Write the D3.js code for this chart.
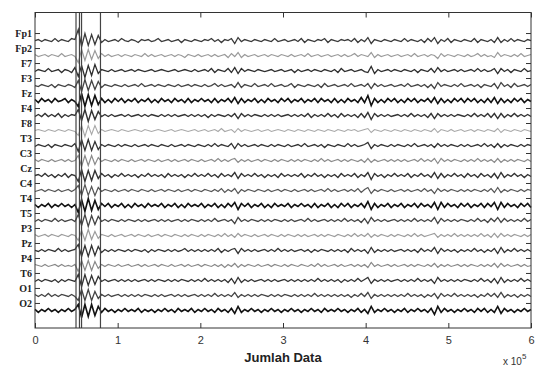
<!DOCTYPE html>
<html>
<head>
<meta charset="utf-8">
<script src="https://cdn.jsdelivr.net/npm/d3@7"></script>
<style>
  body { margin: 0; background: #fff; }
  svg { display: block; }
</style>
</head>
<body>
<svg id="chart" width="537" height="367"></svg>
<script>
// channel names, top to bottom
const channels = ["Fp1", "Fp2", "F7", "F3", "Fz", "F4", "F8", "T3", "C3", "Cz",
  "C4", "T4", "T5", "P3", "Pz", "P4", "T6", "O1", "O2"];

// x axis (units of 10^5 samples)
const xTicks = [0, 1, 2, 3, 4, 5, 6];
const xExponent = 5;
const xMax = 600000;

// vertical marker lines (sample index)
const markers = [49600, 53800, 56300, 79200];

// amplitude readings, evenly spaced over the record, one row per channel
const signals = [
  // Fp1
  [0,1,-1,1,0,-1,2,-1,1,0, -1,2,1,11,-6,7,-5,6,-4,5, -2,1,-1,0,1,-1,2,0,-1,1, 0,-2,1,0,1,-1,0,2,-1,0, 1,-1,0,1,-2,1,0,-1,1,0,
   -1,1,0,2,-1,1,-2,1,0,2, -3,3,-1,1,0,-1,1,0,-1,1, 0,-1,2,-1,0,1,-1,0,1,-1, 2,-2,1,0,-1,1,0,2,-2,1, 0,-1,1,0,1,-1,2,-2,1,-1,
   3,-3,1,0,-1,1,0,-1,1,0, -1,2,-1,1,0,-1,1,-2,2,-1, 3,-3,1,-1,2,-2,1,0,-1,1, 0,-1,2,-2,1,0,-1,1,-2,3, -2,1,-1,2,-1,1,0,-1,1,0],
  // Fp2
  [1,-1,0,1,-1,1,0,-1,2,-1, 0,1,-1,-7,6,-5,6,-4,5,-3, 2,-1,1,-1,0,1,-1,1,0,-1, 1,0,-1,2,-1,1,-1,0,1,-1, 0,1,-1,1,0,-2,1,0,-1,1,
   -1,0,1,-1,1,-1,0,1,-2,2, -1,3,-2,1,-1,0,1,-1,0,1, -1,1,0,-1,1,0,-1,1,-1,0, 1,-1,2,-1,0,1,-1,0,1,-1, 0,1,-1,1,-1,0,2,-1,1,0,
   -1,3,-2,1,-1,0,1,-1,0,1, -1,0,1,-1,2,-1,0,1,-1,1, 0,-3,2,-1,1,0,-1,1,0,-1, 1,-1,0,2,-1,1,-1,0,-2,3, -1,1,0,-1,1,-1,2,-1,0,1],
  // F7
  [-1,1,0,-1,2,-1,0,1,-2,1, 0,-2,3,-6,5,-7,5,-5,6,-3, 1,0,-1,1,-1,0,1,-1,0,1, -1,1,0,-1,0,1,-1,0,1,0, -1,0,1,-1,0,1,0,-1,1,-1,
   0,1,-1,2,-2,1,0,-1,2,-2, 3,-3,2,-1,1,0,-1,1,0,-1, 0,1,-1,0,1,-1,0,1,-2,1, -1,0,1,-1,1,0,-1,1,0,-1, 1,-2,2,-1,0,1,-1,0,1,-1,
   -2,4,-3,1,-1,0,1,-1,1,0, -1,1,0,-1,1,-2,1,0,-1,2, -2,3,-1,1,-1,0,1,-1,1,-1, 0,1,-1,2,-1,1,-1,0,2,-3, 2,-1,1,-2,1,0,-1,2,-1,0],
  // F3
  [0,-1,1,0,-1,1,-2,1,0,-1, 1,0,-2,5,-6,6,-5,5,-4,4, -2,1,0,-1,1,0,-1,1,-1,0, 1,-1,2,-1,0,1,-1,1,0,-1, 1,0,-1,1,-1,0,1,-1,1,0,
   -1,1,-1,0,2,-1,1,-1,0,1, -2,3,-2,1,0,-1,2,-1,0,1, -1,2,-1,0,1,-1,0,2,-2,1, 0,-1,1,0,-1,1,-2,2,-1,0, 1,-1,0,1,-1,2,-1,0,1,-1,
   2,-3,2,-1,1,-1,0,1,-1,0, 1,-1,2,-1,0,1,-1,1,-2,1, -3,3,-1,1,0,-1,1,-1,2,-1, 0,1,-1,1,-2,1,0,-1,2,-3, 3,-1,1,-2,2,-1,0,1,-1,1],
  // Fz
  [1,-2,2,-1,1,-2,2,-1,0,2, -2,1,-1,-6,7,-6,6,-5,5,-4, 2,-2,1,-2,2,-1,2,-2,1,-1, 2,-2,1,-1,2,-2,1,-2,2,-1, 1,-2,2,-1,1,-2,2,-2,1,-1,
   2,-1,1,-2,2,-2,1,-1,2,-2, 3,-3,2,-2,1,-1,2,-2,1,-2, 2,-1,1,-2,2,-1,2,-2,1,-1, 2,-2,1,-1,2,-2,2,-1,1,-2, 2,-2,1,-2,2,-1,1,-2,3,-2,
   5,-5,2,-2,1,-2,2,-1,2,-2, 1,-2,2,-1,2,-2,1,-1,2,-2, 3,-3,2,-2,1,-2,2,-1,2,-2, 2,-1,2,-2,1,-2,2,-2,3,-3, 2,-2,1,-2,2,-1,2,-2,1,-1],
  // F4
  [-1,1,-1,2,-1,1,-1,2,-2,1, -1,1,0,6,-5,6,-6,5,-4,4, -1,1,-1,1,-1,0,1,-1,1,-1, 0,1,-1,1,-1,1,0,-1,1,-1, 1,-1,1,-1,0,1,-1,1,-1,1,
   -1,1,-2,1,-1,1,0,-1,1,-1, 2,-3,2,-1,1,-1,1,0,-1,1, -1,1,-1,1,-1,0,1,-1,1,-1, 1,-1,2,-2,1,-1,1,-1,2,-1, 1,-2,2,-1,1,-1,1,-2,2,-2,
   3,-4,2,-1,1,-1,1,-1,0,1, -1,1,-1,2,-1,1,-1,1,-2,2, -3,2,-1,1,-1,1,-1,1,0,-1, 1,-1,2,-1,1,-1,2,-2,2,-3, 2,-2,1,-1,2,-1,1,-1,1,-1],
  // F8
  [0,1,0,-1,1,0,-1,1,0,-1, 1,0,-1,-5,5,-6,5,-4,5,-3, 1,-1,0,1,0,-1,1,0,-1,0, 1,0,-1,1,0,-1,0,1,0,-1, 0,1,-1,0,1,0,-1,0,1,-1,
   0,1,-1,0,1,-1,2,-1,0,1, -2,2,-1,1,0,-1,0,1,-1,0, 1,-1,0,1,0,-1,1,0,-1,1, 0,-1,1,0,-1,1,0,-1,1,0, -1,1,0,-1,1,0,1,-1,0,1,
   2,-2,1,0,-1,1,0,-1,1,0, -1,1,0,-1,1,0,-1,1,0,-1, 2,-2,1,0,-1,1,-1,0,1,-1, 0,1,-1,1,0,-1,1,0,-1,2, -2,1,0,-1,1,0,-1,1,0,-1],
  // T3
  [-1,1,0,-1,1,-2,1,0,-1,1, 0,-1,2,-6,6,-5,6,-5,4,-4, 1,-1,1,0,-1,1,-1,1,0,-1, 1,-1,0,1,-1,1,0,-1,1,0, -1,1,-1,0,1,-1,1,0,-1,1,
   0,-1,1,-1,2,-1,1,0,-1,2, -3,2,-1,1,-1,0,1,-1,1,0, -1,1,-1,1,0,-1,1,-1,0,1, -1,2,-1,0,1,-1,1,-2,1,0, -1,1,0,-1,2,-1,1,-1,0,1,
   3,-3,1,-1,1,0,-1,1,-1,1, 0,-1,1,-1,2,-1,0,1,-1,1, -2,2,-1,1,-1,1,0,-1,1,-1, 1,-1,0,1,-1,2,-1,1,-2,2, -2,1,-1,1,0,-1,1,-1,1,0],
  // C3
  [1,-1,1,0,-1,1,-1,0,1,-1, 1,-1,0,5,-6,5,-5,5,-4,3, -1,1,0,-1,1,-1,1,0,-1,1, -1,0,1,-1,1,0,-1,1,-1,0, 1,-1,1,-1,0,1,-1,1,0,-1,
   1,-1,0,1,-1,2,-1,1,-1,1, 2,-2,1,-1,1,-1,0,1,-1,1, 0,-1,1,-1,1,0,-1,1,-1,1, -1,1,0,-1,1,-1,2,-1,1,-1, 0,1,-1,1,-1,1,0,-1,1,-2,
   2,-2,1,-1,0,1,-1,1,-1,1, -1,1,-1,0,1,-1,2,-1,1,-1, 2,-3,2,-1,1,-1,1,0,-1,1, -1,1,-1,2,-1,1,-1,1,-2,2, -2,1,-1,1,-1,1,0,-1,1,-1],
  // Cz
  [0,1,-1,2,-1,1,-2,1,-1,2, -2,1,0,-6,6,-6,5,-5,5,-3, 2,-1,1,-2,1,-1,2,-1,1,-1, 1,-2,1,-1,2,-1,1,-1,1,-2, 2,-1,1,-1,1,-2,1,-1,2,-1,
   1,-1,2,-1,1,-2,2,-1,1,-1, 3,-3,2,-1,1,-1,2,-1,1,-2, 1,-1,1,-2,2,-1,1,-1,1,-1, 2,-2,1,-1,2,-1,1,-2,1,-1, 1,-2,2,-1,1,-1,2,-2,1,-1,
   3,-4,2,-1,1,-2,1,-1,2,-1, 1,-1,2,-2,1,-1,2,-1,1,-2, 3,-3,2,-2,1,-1,2,-1,1,-2, 2,-1,1,-2,2,-1,1,-2,2,-3, 3,-2,1,-1,2,-1,1,-2,1,-1],
  // C4
  [-1,0,1,-1,1,0,-1,1,-1,0, 1,-1,1,5,-5,6,-5,4,-5,3, -1,1,0,-1,1,-1,0,1,-1,1, 0,-1,1,0,-1,1,-1,0,1,-1, 1,0,-1,1,-1,0,1,-1,1,0,
   -1,1,0,-1,1,-1,2,-2,1,-1, 2,-3,1,-1,1,0,-1,1,0,-1, 1,-1,0,1,-1,1,0,-1,1,-1, 0,1,-1,1,-1,0,1,-1,2,-1, 1,-1,0,1,-1,1,-1,2,-2,1,
   3,-3,1,-1,1,0,-1,1,-1,0, 1,-1,1,-1,0,1,-1,2,-1,1, -3,2,-1,1,-1,1,0,-1,1,-1, 1,-1,1,0,-1,1,-1,2,-2,3, -2,1,-1,1,0,-1,1,-1,1,0],
  // T4
  [1,-2,1,-1,2,-2,1,-1,2,-1, 1,-2,1,-7,6,-6,7,-5,5,-4, 2,-1,2,-2,1,-1,2,-2,1,-2, 2,-1,1,-2,2,-1,1,-1,2,-2, 1,-1,2,-2,1,-2,2,-1,1,-1,
   2,-2,1,-1,2,-2,1,-2,2,-1, 3,-4,2,-1,2,-2,1,-1,2,-2, 1,-2,2,-1,1,-1,2,-2,1,-1, 2,-1,1,-2,2,-2,1,-1,2,-2, 1,-2,2,-1,2,-2,1,-1,2,-2,
   4,-4,2,-2,1,-1,2,-2,1,-1, 2,-2,1,-1,2,-2,2,-1,1,-2, 3,-4,3,-2,2,-1,1,-2,2,-1, 2,-2,1,-1,2,-2,2,-1,3,-4, 3,-2,2,-1,1,-2,2,-1,2,-2],
  // T5
  [-1,1,-1,1,0,-1,2,-1,1,-1, 0,1,-1,6,-5,6,-6,5,-4,4, -1,1,-1,1,0,-1,1,-1,1,0, -1,1,-1,1,-1,0,1,-1,1,-1, 1,-1,0,1,-1,1,-1,1,0,-1,
   1,-1,1,-1,2,-1,0,1,-1,1, -3,3,-1,1,-1,1,0,-1,1,-1, 1,-1,1,0,-1,1,-1,1,-1,0, 1,-1,2,-1,1,-1,0,1,-1,1, -1,1,-1,2,-1,1,-1,1,-2,2,
   -3,3,-1,1,-1,1,-1,0,1,-1, 1,-1,1,-1,2,-1,1,-1,1,-1, 3,-3,2,-1,1,-1,1,-1,1,0, -1,1,-1,2,-1,1,-2,2,-1,3, -2,2,-1,1,-1,1,-1,2,-1,1],
  // P3
  [1,-1,0,1,-1,1,0,-1,1,0, -1,1,0,-5,5,-5,6,-4,4,-3, 1,0,-1,1,-1,0,1,-1,0,1, -1,1,0,-1,1,-1,0,1,-1,1, 0,-1,1,0,-1,1,-1,1,0,-1,
   1,-1,1,0,-1,1,-1,2,-1,1, -2,2,-1,1,0,-1,1,-1,0,1, -1,1,0,-1,1,-1,1,0,-1,1, -1,1,-1,0,1,-1,1,-1,1,0, -1,1,0,-1,1,-1,2,-1,1,-1,
   2,-2,1,-1,1,0,-1,1,-1,1, 0,-1,1,-1,2,-1,1,-1,0,1, 2,-2,1,-1,1,-1,2,-1,1,-1, 1,-1,1,-1,2,-1,1,-2,2,-2, 2,-1,1,-1,1,0,-1,1,-1,1],
  // Pz
  [0,-1,1,-1,1,0,-1,2,-1,1, -1,0,1,6,-6,5,-6,5,-5,4, -2,1,-1,1,-1,1,0,-1,1,-1, 1,0,-1,1,-2,1,-1,1,0,-1, 1,-1,1,-1,0,2,-1,1,-1,1,
   -1,1,-1,1,-1,2,-2,1,-1,1, 2,-3,2,-1,1,-1,1,-1,0,1, -1,1,-1,2,-1,1,-1,1,-1,0, 1,-1,1,-2,1,-1,1,0,-1,1, -1,1,-1,1,-2,2,-1,1,-1,1,
   -3,3,-2,1,-1,1,-1,1,-1,0, 1,-1,1,-1,1,-2,2,-1,1,-1, 3,-3,2,-1,1,-1,1,-2,1,-1, 1,-1,2,-1,1,-2,1,-1,2,-3, 3,-2,1,-1,2,-1,1,-1,1,-1],
  // P4
  [1,0,-1,1,-1,0,1,-1,1,-1, 0,-1,1,-6,5,-5,5,-5,4,-3, 1,-1,1,0,-1,1,-1,0,1,-1, 0,1,-1,1,-1,0,1,-1,1,0, -1,1,-1,0,1,-1,1,-1,0,1,
   -1,1,0,-1,1,-1,1,-2,1,-1, 2,-2,1,-1,1,0,-1,1,-1,0, 1,-1,1,0,-1,1,-1,1,0,-1, 1,0,-1,1,-1,2,-1,1,-1,0, 1,-1,1,-1,0,1,-1,1,-1,1,
   -2,3,-1,1,-1,0,1,-1,1,-1, 0,1,-1,1,-1,1,0,-1,1,-1, 2,-2,1,-1,1,-1,0,1,-1,1, -1,1,0,-1,1,-1,1,-1,2,-2, 2,-1,1,-1,0,1,-1,1,-1,0],
  // T6
  [-1,1,-1,1,0,-1,1,-2,1,-1, 1,0,-1,6,-6,6,-5,5,-4,4, -1,1,-1,0,1,-1,1,-1,1,-1, 1,-1,0,1,-1,1,-1,1,0,-1, 1,-1,1,-1,1,0,-1,1,-1,1,
   -1,2,-1,1,-1,1,-1,1,-2,2, -3,3,-2,1,-1,1,-1,0,1,-1, 1,-1,1,-1,0,1,-1,1,-1,1, -1,1,-1,1,-1,2,-1,1,-1,1, -1,1,-2,1,-1,1,-1,2,-1,1,
   3,-3,1,-1,1,-1,1,-1,0,1, -1,1,-1,1,-1,2,-1,1,-1,1, -3,3,-1,1,-1,1,-1,1,-1,1, 0,-1,1,-1,2,-1,1,-2,2,-3, 3,-2,1,-1,1,-1,2,-1,1,-1],
  // O1
  [1,-1,1,-1,2,-1,1,-1,1,0, -1,1,-1,-5,6,-5,6,-5,4,-3, 1,-1,1,-1,0,1,-1,1,-1,1, -1,1,-1,1,0,-1,1,-1,1,-1, 0,1,-1,1,-1,1,-1,0,1,-1,
   1,-1,1,-1,2,-1,1,-1,1,-1, 3,-2,1,-1,1,-1,1,-1,1,0, -1,1,-1,1,-1,1,0,-1,1,-1, 1,-1,1,-1,2,-1,1,-1,1,-1, 1,-1,1,-1,1,-2,1,-1,2,-1,
   3,-3,1,-1,1,-1,1,-1,1,-1, 1,-1,2,-1,1,-1,1,-2,1,-1, 2,-3,2,-1,1,-1,2,-1,1,-1, 1,-1,1,-2,1,-1,2,-1,2,-2, 3,-2,1,-1,1,-2,1,-1,1,-1],
  // O2
  [1,-2,1,-1,2,-1,1,-2,1,-1, 2,-1,1,6,-7,6,-6,6,-5,4, -2,2,-1,1,-2,1,-1,2,-1,1, -1,2,-2,1,-1,1,-2,1,-1,2, -1,1,-2,2,-1,1,-1,2,-2,1,
   -1,2,-1,1,-2,2,-1,1,-2,2, -3,4,-2,1,-1,2,-1,1,-2,1, -1,2,-1,1,-2,1,-1,2,-1,1, -2,1,-1,2,-1,1,-2,2,-1,1, -1,2,-1,1,-2,1,-1,2,-2,1,
   -3,4,-2,1,-1,2,-1,1,-2,1, -1,2,-2,1,-1,2,-1,1,-2,2, -4,4,-2,2,-1,1,-2,1,-1,2, -1,1,-2,2,-1,2,-2,1,-2,4, -3,2,-1,1,-2,1,-1,2,-1,1]
];

// line colours and widths per channel (style)
const traceColors = ["#3a3a3a", "#9a9a9a", "#2e2e2e", "#444", "#111", "#333", "#a8a8a8", "#333", "#8a8a8a", "#333",
  "#555", "#111", "#444", "#9c9c9c", "#333", "#888", "#333", "#444", "#111"];
const traceWidths = [1.3, 1.2, 1.3, 1.3, 1.6, 1.4, 1.1, 1.3, 1.2, 1.4,
  1.2, 1.6, 1.3, 1.2, 1.3, 1.2, 1.3, 1.3, 1.6];

const svg = d3.select("#chart");
const plotLeft = 35, plotRight = 531, plotTop = 12.5, plotBottom = 328;

const x = d3.scaleLinear().domain([0, xMax]).range([plotLeft, plotRight]);
const y = d3.scaleLinear().domain([-1.37, 19.67]).range([plotTop, plotBottom]);
const unitsPerChannel = 15; // amplitude units per channel spacing

svg.append("rect").attr("width", 537).attr("height", 367).attr("fill", "#fff");

// traces
const traces = svg.append("g");
signals.forEach((sig, i) => {
  const step = xMax / (sig.length - 1);
  const line = d3.line()
    .x((d, j) => x(j * step))
    .y(d => y(i + 0.5 - d / unitsPerChannel));
  traces.append("path")
    .datum(sig)
    .attr("d", line)
    .attr("fill", "none")
    .attr("stroke", traceColors[i])
    .attr("stroke-width", traceWidths[i])
    .attr("stroke-linejoin", "miter");
});

// marker lines
svg.append("g").selectAll("line")
  .data(markers)
  .enter()
  .append("line")
  .attr("x1", d => x(d)).attr("x2", d => x(d))
  .attr("y1", plotTop).attr("y2", plotBottom)
  .attr("stroke", "#444")
  .attr("stroke-width", 1.2);

// frame
svg.append("rect")
  .attr("x", plotLeft).attr("y", plotTop)
  .attr("width", plotRight - plotLeft).attr("height", plotBottom - plotTop)
  .attr("fill", "none")
  .attr("stroke", "#333")
  .attr("stroke-width", 1);

const tickVals = xTicks.map(v => v * Math.pow(10, xExponent));

const xAxis = svg.append("g")
  .attr("transform", "translate(0," + plotBottom + ")")
  .call(d3.axisBottom(x).tickValues(tickVals).tickFormat(d => d / Math.pow(10, xExponent)).tickSize(-5).tickPadding(8));
xAxis.selectAll("text")
  .style("font-family", "Liberation Sans, Arial, sans-serif")
  .style("font-size", "11px")
  .attr("fill", "#333");

svg.append("g")
  .attr("transform", "translate(0," + plotTop + ")")
  .call(d3.axisTop(x).tickValues(tickVals).tickFormat("").tickSize(-5));

const yAxis = svg.append("g")
  .attr("transform", "translate(" + plotLeft + ",0)")
  .call(d3.axisLeft(y).tickValues(d3.range(channels.length)).tickFormat(i => channels[i]).tickSize(-5).tickPadding(3));
yAxis.selectAll("text")
  .style("font-family", "Liberation Serif, Times New Roman, serif")
  .style("font-size", "10px")
  .style("font-weight", "bold")
  .attr("fill", "#222");

svg.append("g")
  .attr("transform", "translate(" + plotRight + ",0)")
  .call(d3.axisRight(y).tickValues(d3.range(channels.length)).tickFormat("").tickSize(-5));

svg.selectAll(".domain").remove();
svg.selectAll(".tick line").attr("stroke", "#333");

// axis title
svg.append("text")
  .attr("x", (plotLeft + plotRight) / 2)
  .attr("y", 362)
  .attr("text-anchor", "middle")
  .style("font-family", "Liberation Sans, Arial, sans-serif")
  .style("font-size", "13px")
  .style("font-weight", "bold")
  .attr("fill", "#222")
  .text("Jumlah Data");

// exponent label
const expo = svg.append("text")
  .attr("x", 503)
  .attr("y", 365)
  .style("font-family", "Liberation Sans, Arial, sans-serif")
  .style("font-size", "10px")
  .attr("fill", "#333");
expo.append("tspan").text("x 10");
expo.append("tspan").attr("dy", -6).style("font-size", "8px").text(xExponent);
</script>
</body>
</html>
